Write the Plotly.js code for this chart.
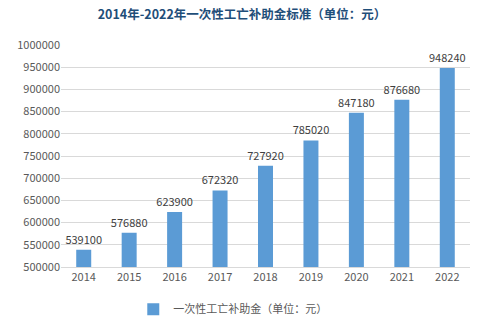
<!DOCTYPE html>
<html><head><meta charset="utf-8">
<script src="https://cdn.plot.ly/plotly-3.0.1.min.js"></script>
<style>body{margin:0;}#c{width:484px;height:336px;}</style>
</head><body><div id="c"></div>
<script>
const years = ['2014','2015','2016','2017','2018','2019','2020','2021','2022'];
const values = [539100,576880,623900,672320,727920,785020,847180,876680,948240];
const seriesName = '一次性工亡补助金（单位：元）';
const titleText = '2014年-2022年一次性工亡补助金标准（单位：元）';
const font = '"Noto Sans CJK SC", "Noto Sans", sans-serif';
Plotly.newPlot('c', [{
  type:'bar', x:years, y:values, name:seriesName,
  marker:{color:'#5B9BD5'},
  text:values.map(String), textposition:'outside', cliponaxis:false, constraintext:'none',
  textfont:{size:11,color:'#404040',family:font},
  hoverinfo:'none'
}], {
  width:484, height:336,
  margin:{l:61,r:14,t:45,b:63},
  paper_bgcolor:'#ffffff', plot_bgcolor:'#ffffff',
  bargap:0.67,
  title:{text:'<b>'+titleText+'</b>', x:0.5, xanchor:'center', y:0.955, yanchor:'middle',
    font:{size:12.5,color:'#1F4E79',family:font}},
  xaxis:{type:'category', showgrid:false, showline:true, linecolor:'#d9d9d9', linewidth:1,
    ticks:'', tickfont:{size:11,color:'#595959',family:font}},
  yaxis:{range:[500000,1000000], dtick:50000, tickformat:'d', showgrid:true, gridcolor:'#d9d9d9',
    zeroline:false, showline:false, ticks:'', ticklen:0,
    tickfont:{size:11,color:'#595959',family:font}},
  showlegend:true,
  legend:{orientation:'h', x:0.42, xanchor:'center', y:-0.19, yanchor:'middle', itemwidth:30,
    font:{size:11,color:'#595959',family:font}}
}, {displayModeBar:false, staticPlot:true});
</script></body></html>
